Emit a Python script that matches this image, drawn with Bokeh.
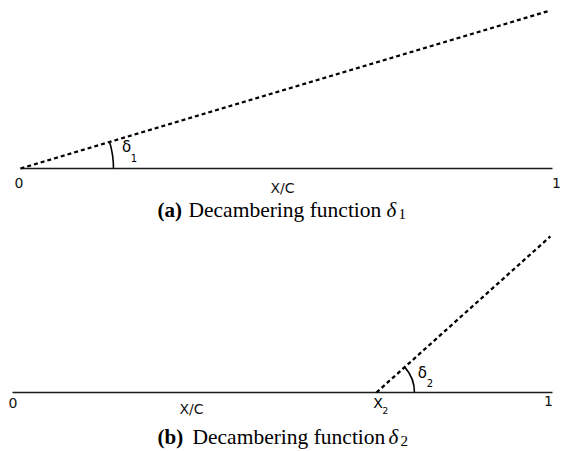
import numpy as np
from bokeh.plotting import figure
from bokeh.layouts import column
from bokeh.models import Range1d
from bokeh.core.properties import value
from bokeh.embed import file_html
from bokeh.resources import INLINE

# ---------------- data ----------------
# panel (a): decambering function delta_1 (starts at leading edge)
a_chord_x = [0.0, 1.0]
a_chord_y = [0.0, 0.0]
a_flap_x = [0.0, 0.996]
a_flap_y = [0.0, 0.297]
a_ticks = ["0", "1"]
a_tick_x = [0.0, 1.0]

# panel (b): decambering function delta_2 (hinge at X2)
b_chord_x = [0.0, 1.0]
b_chord_y = [0.0, 0.0]
b_x2 = 0.674
b_flap_x = [b_x2, 0.996]
b_flap_y = [0.0, 0.289]
b_ticks = ["0", "1"]
b_tick_x = [0.0, 1.0]

axis_label = "X/C"
captions = ["(a)", "(b)"]
caption_text = "Decambering function"

W = 562
SANS = value("DejaVu Sans")
SERIF = value("Liberation Serif")


def make_fig(x0px, x1px, base_px, h):
    s = x1px - x0px
    p = figure(width=W, height=h,
               x_range=Range1d(-x0px / s, (W - x0px) / s),
               y_range=Range1d(-(h - base_px) / s, base_px / s),
               output_backend="svg", toolbar_location=None,
               x_axis_location=None, y_axis_location=None,
               min_border=0)
    p.grid.visible = False
    p.outline_line_color = None
    p.background_fill_color = "white"
    p.border_fill_color = "white"
    return p, s


def px(x, x0px, s):
    return (x - x0px) / s


def panel(chord_x, chord_y, flap_x, flap_y, tick_x, ticks, x0px, x1px, base_px, h,
          arc_r, xc_px, xc_dy, tick_dx, tick_dy, sym_d, sub_d, sub, cap, cap_x, cap_dy,
          x2=None):
    p, s = make_fig(x0px, x1px, base_px, h)
    p.line(chord_x, chord_y, line_width=1.3, line_color="#1a1a1a")
    p.line(flap_x, flap_y, line_width=2.3, line_color="black", line_dash="4 3")
    ang = float(np.arctan2(flap_y[1] - flap_y[0], flap_x[1] - flap_x[0]))
    p.arc(x=[flap_x[0]], y=[flap_y[0]], radius=arc_r, radius_units="screen",
          start_angle=0, end_angle=ang, line_width=1.6, line_color="black")
    # tick labels 0 and 1
    p.text(x=tick_x, y=[0, 0], text=ticks, x_offset=tick_dx, y_offset=tick_dy,
           text_font=SANS, text_font_size="14px", text_align="center",
           text_baseline="middle", text_color="#111111")
    # X/C
    p.text(x=[px(xc_px, x0px, s)], y=[0], text=[axis_label], y_offset=xc_dy,
           text_font=SANS, text_font_size="14px", text_align="center",
           text_baseline="middle", text_color="#111111")
    # delta symbol with subscript
    p.text(x=[flap_x[0]], y=[0], text=["δ"], x_offset=sym_d[0], y_offset=sym_d[1],
           text_font=SANS, text_font_size="15px", text_align="center",
           text_baseline="middle", text_color="black")
    p.text(x=[flap_x[0]], y=[0], text=[sub], x_offset=sub_d[0], y_offset=sub_d[1],
           text_font=SANS, text_font_size="10px", text_align="center",
           text_baseline="middle", text_color="black")
    if x2 is not None:
        p.text(x=[x2], y=[0], text=["X"], x_offset=1.5, y_offset=10.5,
               text_font=SANS, text_font_size="14px", text_align="center",
               text_baseline="middle", text_color="black")
        p.text(x=[x2], y=[0], text=["2"], x_offset=9, y_offset=18,
               text_font=SANS, text_font_size="9px", text_align="center",
               text_baseline="middle", text_color="black")
    # caption
    p.text(x=[px(cap_x[0], x0px, s)], y=[0], text=[cap], y_offset=cap_dy,
           text_font=SERIF, text_font_size="21px", text_font_style="bold",
           text_align="left", text_baseline="middle", text_color="black")
    p.text(x=[px(cap_x[1], x0px, s)], y=[0], text=[caption_text], y_offset=cap_dy,
           text_font=SERIF, text_font_size="21.5px",
           text_align="left", text_baseline="middle", text_color="black")
    p.text(x=[px(cap_x[2], x0px, s)], y=[0], text=["δ"], y_offset=cap_dy,
           text_font=SERIF, text_font_size="21px", text_font_style="italic",
           text_align="left", text_baseline="middle", text_color="black")
    p.text(x=[px(cap_x[3], x0px, s)], y=[0], text=[sub], y_offset=cap_dy + 4,
           text_font=SERIF, text_font_size="15px",
           text_align="left", text_baseline="middle", text_color="black")
    return p


pa = panel(a_chord_x, a_chord_y, a_flap_x, a_flap_y, a_tick_x, a_ticks,
           20, 552, 168, 226, 93, 282, 19, [-1.5, 4], [14, 14.5],
           (106, -22), (113.5, -11), "1",
           captions[0], (157, 188, 386, 398), 41)
pb = panel(b_chord_x, b_chord_y, b_flap_x, b_flap_y, b_tick_x, b_ticks,
           12, 552, 166, 225, 38, 191, 16, [0.5, -4], [10, 8],
           (46, -19.5), (53.5, -10), "2",
           captions[1], (157, 192, 388, 400), 44, x2=b_x2)

layout = column(pa, pb, spacing=0)
open("out.html", "w").write(file_html(layout, INLINE))
